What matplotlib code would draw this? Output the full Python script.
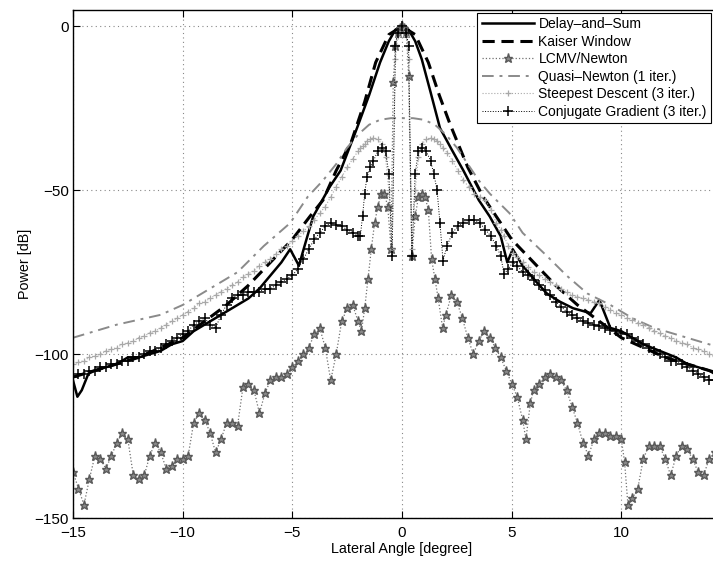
import numpy as np
import matplotlib
matplotlib.use("Agg")
import matplotlib.pyplot as plt

plt.rcParams['font.family'] = ['Liberation Sans', 'DejaVu Sans']

# Delay-and-Sum
das_x = [-15, -14.8, -14.6, -14.3, -14, -13.5, -13, -12.5, -12, -11.5, -11, -10.5, -10, -9.5, -9,
         -8.5, -8, -7.5, -7, -6.5, -6, -5.5, -5.1, -4.7, -4.4, -4.05, -3.3, -2.8, -2.05, -1.5, -1.0,
         -0.6, -0.3, 0, 0.3, 0.6, 0.9, 1.3, 1.73, 2.3, 2.8, 3.5, 4.0, 4.5, 4.8, 5.05, 5.5, 6, 6.6,
         7.2, 7.8, 8.6, 9.0, 9.5, 10, 10.5, 11, 11.75, 12.5, 13, 13.5, 14, 14.5, 15]
das_y = [-108, -113, -111, -106, -105, -104, -103, -101, -101, -100, -99, -97, -96, -93, -91,
         -89, -87, -85, -83, -80, -76, -72, -68, -73, -66, -58, -49, -44, -31, -21, -11,
         -4.5, -1, 0, -1, -4.5, -10, -20, -31, -38, -44, -53, -58, -64, -72, -68, -73, -77, -81.5,
         -84, -86, -87.5, -83.5, -92, -93, -95, -97, -99, -101, -103, -104, -105, -107, -108]

# Kaiser Window
kai_x = [-15, -14, -13, -12, -11, -10, -9, -8, -7, -6, -5, -4.2, -3.6, -3.0, -2.3, -1.7, -1.2,
         -0.6, 0, 0.6, 1.2, 1.7, 2.2, 3.0, 3.7, 4.3, 5, 6, 7, 8, 9, 10, 11, 12, 13, 14, 15]
kai_y = [-107, -105, -103, -101, -98, -95, -90, -85, -79, -72, -65, -58, -53, -44, -35, -23, -11,
         -2.5, 0, -2.5, -11, -21, -30, -43, -52, -58, -65, -72, -79, -85, -90, -95, -98, -101,
         -103, -105, -107]

# LCMV/Newton
lcmv_x = [-15, -14.75, -14.5, -14.25, -14, -13.75, -13.5, -13.25, -13, -12.75, -12.5, -12.25, -12,
          -11.75, -11.5, -11.25, -11, -10.75, -10.5, -10.25, -10, -9.75, -9.5, -9.25, -9, -8.75,
          -8.5, -8.25, -8, -7.75, -7.5, -7.25, -7, -6.75, -6.5, -6.25, -6, -5.75, -5.5, -5.25, -5,
          -4.75, -4.5, -4.25, -4, -3.75, -3.5, -3.25, -3, -2.75, -2.5, -2.25, -2, -1.85, -1.7,
          -1.55, -1.4, -1.25, -1.1, -0.95, -0.8, -0.65, -0.5, -0.4, -0.3, -0.2, -0.1, 0, 0.1, 0.2,
          0.3, 0.45, 0.6, 0.75, 0.9, 1.05, 1.2, 1.35, 1.5, 1.65, 1.85, 2, 2.25, 2.5, 2.75, 3, 3.25,
          3.5, 3.75, 4, 4.25, 4.5, 4.75, 5, 5.25, 5.5, 5.65, 5.85, 6, 6.25, 6.5, 6.75, 7, 7.25, 7.5,
          7.75, 8, 8.25, 8.5, 8.75, 9, 9.25, 9.5, 9.75, 10, 10.15, 10.3, 10.5, 10.75, 11, 11.25,
          11.5, 11.75, 12, 12.25, 12.5, 12.75, 13, 13.25, 13.5, 13.75, 14, 14.25, 14.5]
lcmv_y = [-136, -141, -146, -138, -131, -132, -135, -131, -127, -124, -126, -137, -138,
          -137, -131, -127, -130, -135, -134, -132, -132, -131, -121, -118, -120, -124,
          -130, -126, -121, -121, -122, -110, -109, -111, -118, -112, -108, -107, -107, -106, -104,
          -102, -100, -98, -94, -92, -98, -108, -100, -90, -86, -85, -90, -93, -86,
          -77, -68, -60, -55, -51, -51, -55, -68, -17, -6, -2, -0.5, 0, -0.5, -2,
          -15, -70, -58, -52, -51, -52, -56, -71, -77, -83, -92, -88, -82, -84, -89, -95, -100,
          -96, -93, -95, -98, -101, -105, -109, -113, -120, -126, -115, -111, -109, -107, -106, -107, -108, -111,
          -116, -121, -127, -131, -126, -124, -124, -125, -125, -126, -133, -146, -144, -141, -132, -128,
          -128, -128, -132, -137, -131, -128, -129, -132, -136, -137, -132, -130, -129]

# shared grid for the two iterative methods drawn with crosses
it_x = [-15, -14.75, -14.5, -14.25, -14, -13.75, -13.5, -13.25, -13, -12.75, -12.5, -12.25, -12,
        -11.75, -11.5, -11.25, -11, -10.75, -10.5, -10.25, -10, -9.75, -9.5, -9.25, -9, -8.75,
        -8.5, -8.25, -8, -7.75, -7.5, -7.25, -7, -6.75, -6.5, -6.25, -6, -5.75, -5.5, -5.25, -5,
        -4.75, -4.5, -4.25, -4, -3.75, -3.5, -3.25, -3, -2.75, -2.5, -2.25, -2, -1.9, -1.8, -1.7,
        -1.6, -1.45, -1.3, -1.1, -0.9, -0.75, -0.6, -0.45, -0.3, -0.2, 0, 0.2, 0.3, 0.45, 0.6,
        0.75, 0.9, 1.1, 1.3, 1.45, 1.6, 1.73, 1.87, 2.05, 2.3, 2.55, 2.8, 3.05, 3.3, 3.55, 3.8,
        4.05, 4.3, 4.5, 4.65, 4.85, 5.05, 5.25, 5.5, 5.75, 6, 6.25, 6.5, 6.75, 7, 7.25, 7.5, 7.75,
        8, 8.25, 8.5, 8.75, 9, 9.25, 9.5, 9.75, 10, 10.25, 10.5, 10.75, 11, 11.25, 11.5, 11.75, 12,
        12.25, 12.5, 12.75, 13, 13.25, 13.5, 13.75, 14, 14.25, 14.5]

# Steepest Descent (3 iter.)
sd_y = [-103, -102.5, -102, -101, -100.5, -100, -99, -98.5, -98, -97, -96.5, -96, -95,
        -94.5, -93.5, -93, -92, -91, -90, -89, -88, -87, -86, -84.5, -84, -83,
        -82, -81, -80, -79, -78, -76.5, -75.5, -74.5, -73, -72, -71, -69.5, -68, -67, -65.5,
        -64, -62.5, -61, -59, -57, -55, -52, -49, -46, -43, -40.5, -38, -37, -36.5, -36,
        -35, -34.5, -34, -34.5, -36, -40, -50, -68, -10, -3, 0, -3, -10, -68, -50,
        -40, -36, -34.5, -34, -34.5, -35, -36, -37, -38.5, -41, -44, -47, -49, -51, -52, -53,
        -56, -60, -62, -64, -67, -69, -70.5, -72, -73.5, -75, -76, -77, -78, -79, -80, -81, -82,
        -82.5, -83, -83.5, -84, -84.5, -85.5, -86.5, -87.5, -88, -89, -89.5, -90.5, -91, -92, -93, -93.6, -94.5,
        -95, -96, -96.5, -97, -98, -98.5, -99, -100, -100.5, -101]

# Conjugate Gradient (3 iter.)
cg_y = [-107, -106, -106, -105, -105, -104, -104, -103, -103, -102, -102, -101, -101,
        -100, -99, -99, -98, -97, -96, -95, -94, -93, -91, -90, -89, -91,
        -92, -88, -85, -83, -82, -82, -81, -81, -81, -80, -80, -79, -78, -77, -76,
        -74, -71, -68, -65, -63, -61, -60, -60.5, -61, -62, -63, -64, -64, -58, -51,
        -46, -43, -41, -38, -37, -38, -45, -70, -6, -2, 0, -2, -6, -70, -45,
        -38, -37, -38, -41, -45, -50, -60, -71.5, -67, -63, -61, -60, -59, -59, -60, -62,
        -64, -67, -70, -75.5, -74, -72, -73, -75, -76, -77.5, -79, -80.5, -82, -84, -85.5, -87, -88,
        -89, -90, -90.5, -91, -91.5, -92, -92.5, -93, -93.5, -94, -95, -96, -97, -98, -99, -100, -101,
        -102, -102, -103, -104, -105, -106, -107, -108, -108, -109]

# Quasi-Newton (1 iter.)
qn_x = [-15, -14, -13, -12, -11, -10, -9, -8.5, -7.5, -6.3, -5.1, -4.3, -3.6, -3, -2.5, -2, -1.5,
        -1, -0.5, 0, 0.5, 1, 1.5, 2, 2.5, 3, 3.5, 4, 4.9, 5.5, 6.6, 7.5, 8.45, 9.5, 10.5, 11.5,
        12.5, 13.5, 14.5, 15]
qn_y = [-95, -93, -91, -89.5, -88, -85, -81, -79, -75, -67, -60, -52, -47, -42, -37, -33, -30,
        -28.5, -28, -28, -28, -28.5, -30, -33, -37, -42, -47, -51, -57, -63, -70, -76, -81.5, -85,
        -89, -92, -94, -96, -98, -99]

xticks = [-15, -10, -5, 0, 5, 10]
xticklabels = ['\u221215', '\u221210', '\u22125', '0', '5', '10']
yticks = [-150, -100, -50, 0]
yticklabels = ['\u2212150', '\u2212100', '\u221250', '0']

fig = plt.figure(figsize=(7.13, 5.61), dpi=100)
ax = fig.add_axes([73 / 713, 43 / 561, (731 - 73) / 713, (518 - 10) / 561])

ax.plot(das_x, das_y, color='black', linestyle='-', linewidth=1.8, label='Delay\u2013and\u2013Sum')
ax.plot(kai_x, kai_y, color='black', linestyle=(0, (4, 2.2)), linewidth=2.2, label='Kaiser Window')
ax.plot(lcmv_x, lcmv_y, color='#707070', linestyle=':', linewidth=0.9, marker='*',
        markersize=6.5, markeredgecolor='#5a5a5a', markerfacecolor='#8a8a8a',
        label='LCMV/Newton')
ax.plot(qn_x, qn_y, color='#8a8a8a', linestyle=(0, (6, 3, 1.5, 3)), linewidth=1.4,
        label='Quasi\u2013Newton (1 iter.)')
ax.plot(it_x, sd_y, color='#a8a8a8', linestyle=':', linewidth=0.8, marker='+',
        markersize=5, markeredgewidth=0.9, label='Steepest Descent (3 iter.)')
ax.plot(it_x, cg_y, color='black', linestyle=':', linewidth=0.7, marker='+',
        markersize=7, markeredgewidth=1.1, label='Conjugate Gradient (3 iter.)')

ax.set_xlim(-15, 15)
ax.set_ylim(-150, 5)
# grid line at 15 sits outside the cropped picture, so only draw labelled ticks
ax.set_xticks(xticks)
ax.set_yticks(yticks)
ax.set_xticklabels(xticklabels)
ax.set_yticklabels(yticklabels)
ax.tick_params(direction='in', length=5, width=0.8, labelsize=11, top=True, right=True)
ax.tick_params(axis='x', pad=6)
ax.tick_params(axis='y', pad=3)
ax.grid(True, linestyle=(0, (1, 3)), color='#888888', linewidth=0.8)
for s in ax.spines.values():
    s.set_linewidth(1.0)

ax.set_xlabel('Lateral Angle [degree]', fontsize=10.4, labelpad=1)
ax.set_ylabel('Power [dB]', fontsize=10.4, labelpad=2)

leg = ax.legend(loc='upper right', bbox_to_anchor=(711 / 713, 1 - 13 / 561),
                bbox_transform=fig.transFigure, fontsize=10, handlelength=3.8,
                fancybox=False, framealpha=1, edgecolor='black', borderpad=0.3,
                labelspacing=0.25, handletextpad=0.3, borderaxespad=0)
leg.get_frame().set_linewidth(0.8)

fig.savefig('out.png', dpi=100)
